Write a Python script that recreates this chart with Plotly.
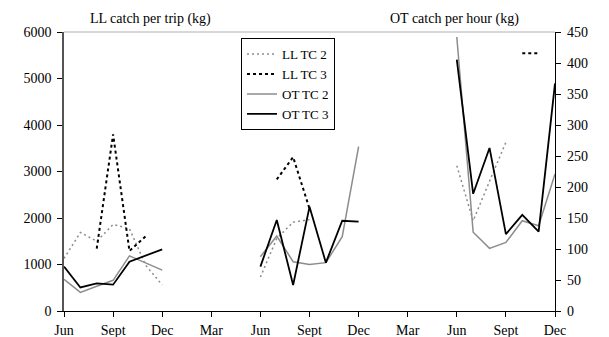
import plotly.graph_objects as go

# month index 0 = Jun (year 1) ... 30 = Dec (year 3)
months = list(range(31))
tick_vals = [0, 3, 6, 9, 12, 15, 18, 21, 24, 27, 30]
tick_text = ["Jun", "Sept", "Dec", "Mar", "Jun", "Sept", "Dec", "Mar", "Jun", "Sept", "Dec"]

N = None
# LL catch per trip (kg) - left axis
ll_tc2 = [1130, 1690, 1500, 1860, 1770, 980, 560, N, N, N, N, N,
          730, 1560, 1910, 1965, N, N, N, N, N, N, N, N,
          3125, 1940, 2790, 3630, N, N, N]
ll_tc3 = [N, N, 1340, 3800, 1290, 1610, N, N, N, N, N, N,
          N, 2830, 3310, 2200, N, N, N, N, N, N, N, N,
          N, N, N, N, 5545, 5545, N]
# OT catch per hour (kg) - right axis
ot_tc2 = [51, 30, 40, 49.5, 89, 78, 66, N, N, N, N, N,
          87.6, 121, 79.5, 75, 78, 120, 265, N, N, N, N, N,
          442, 127, 101, 110.5, 145.6, 137.5, 221]
ot_tc3 = [71.5, 38, 44.6, 42.5, 79.5, 90, 99.5, N, N, N, N, N,
          71.5, 146.8, 42, 168, 78, 145.6, 144, N, N, N, N, N,
          405.6, 189, 263, 124, 155, 128, 367]

FONT = "Liberation Serif"
fig = go.Figure()
fig.add_trace(go.Scatter(x=months, y=ll_tc2, name="LL TC 2", mode="lines",
                         line=dict(color="#8c8c8c", width=1.5, dash="2px,3px"), yaxis="y"))
fig.add_trace(go.Scatter(x=months, y=ll_tc3, name="LL TC 3", mode="lines",
                         line=dict(color="black", width=2, dash="3px,3px"), yaxis="y"))
fig.add_trace(go.Scatter(x=months, y=ot_tc2, name="OT TC 2", mode="lines",
                         line=dict(color="#8c8c8c", width=1.5), yaxis="y2"))
fig.add_trace(go.Scatter(x=months, y=ot_tc3, name="OT TC 3", mode="lines",
                         line=dict(color="black", width=1.8), yaxis="y2"))

tickfont = dict(family=FONT, size=14, color="black")
common_x = dict(range=[0, 30], tickvals=tick_vals, showgrid=False, zeroline=False,
                automargin=False)
fig.update_layout(
    template="none",
    width=601, height=329,
    margin=dict(l=56, r=54, t=24, b=26, pad=0),
    paper_bgcolor="white", plot_bgcolor="white",
    font=dict(family=FONT, size=14, color="black"),
    xaxis=dict(**common_x, ticktext=tick_text, ticks="outside", ticklen=5,
               tickcolor="black", showline=True, linecolor="black", linewidth=1.2,
               tickfont=tickfont, anchor="y", ticklabelstandoff=1),
    xaxis2=dict(**common_x, overlaying="x", ticks="inside", ticklen=5,
                tickcolor="black", showticklabels=False, showline=False, anchor="y"),
    yaxis=dict(range=[0, 6000], dtick=1000, tick0=0, ticks="outside", ticklen=5,
               tickcolor="black", showline=True, linecolor="#555555", linewidth=1.5,
               showgrid=False, zeroline=False, tickfont=tickfont, anchor="x",
               ticklabelstandoff=3, automargin=False),
    yaxis3=dict(range=[0, 6000], dtick=1000, tick0=0, ticks="inside", ticklen=5,
                tickcolor="black", overlaying="y", side="left", showticklabels=False,
                showline=False, showgrid=False, zeroline=False, anchor="x",
                automargin=False),
    yaxis2=dict(range=[0, 450], dtick=50, tick0=0, ticks="outside", ticklen=5,
                tickcolor="black", overlaying="y", side="right", showline=True,
                linecolor="black", linewidth=1.2, showgrid=False, zeroline=False,
                tickfont=tickfont, anchor="x", automargin=False, ticklabelstandoff=3),
    yaxis4=dict(range=[0, 450], dtick=50, tick0=0, ticks="inside", ticklen=5,
                tickcolor="black", overlaying="y", side="right", showticklabels=False,
                showline=False, showgrid=False, zeroline=False, anchor="x",
                automargin=False),
    legend=dict(x=0.3605, y=0.978, xanchor="left", yanchor="top",
                bgcolor="white", bordercolor="black", borderwidth=1,
                font=dict(family=FONT, size=13, color="black"),
                itemwidth=30, tracegroupgap=0),
    showlegend=True,
    shapes=[dict(type="line", xref="paper", yref="paper", x0=0, x1=1, y0=1, y1=1,
                 line=dict(color="#b0b0b0", width=1))],
    annotations=[
        dict(text="LL catch per trip (kg)", xref="paper", yref="paper",
             x=0.177, y=1.0, yshift=13, xanchor="center", yanchor="middle",
             showarrow=False, font=dict(family=FONT, size=14, color="black")),
        dict(text="OT catch per hour (kg)", xref="paper", yref="paper",
             x=0.795, y=1.0, yshift=13, xanchor="center", yanchor="middle",
             showarrow=False, font=dict(family=FONT, size=14, color="black")),
    ],
)
fig.write_html("out.html")
